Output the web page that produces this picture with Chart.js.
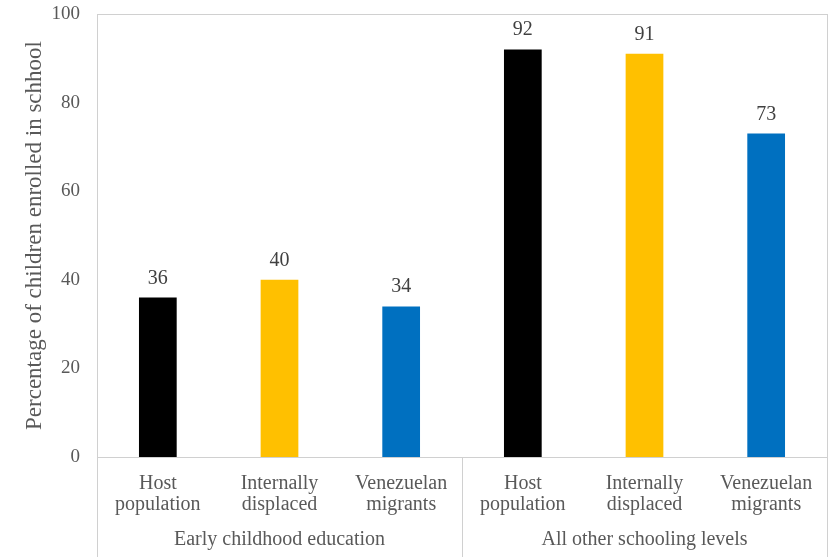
<!DOCTYPE html>
<html>
<head>
<meta charset="utf-8">
<script src="https://cdn.jsdelivr.net/npm/chart.js@4"></script>
<style>
  html, body { margin: 0; padding: 0; background: #fff; }
  #wrap { width: 840px; height: 557px; }
</style>
</head>
<body>
<div id="wrap"><canvas id="enrolChart"></canvas></div>
<script>
// chart data
const groups = ['Early childhood education', 'All other schooling levels'];
const categories = [
  ['Host', 'population'], ['Internally', 'displaced'], ['Venezuelan', 'migrants'],
  ['Host', 'population'], ['Internally', 'displaced'], ['Venezuelan', 'migrants'],
];
const enrolled = [36, 40, 34, 92, 91, 73];
const yTicks = [0, 20, 40, 60, 80, 100];

const palette = ['#000000', '#FFC000', '#0070C0', '#000000', '#FFC000', '#0070C0'];
const textGray = '#595959';
const lineGray = '#D0D0D0';
const serif = '"Liberation Serif", "Times New Roman", serif';

// frame, group separators and value labels
const decorations = {
  id: 'decorations',
  afterDraw(chart) {
    const { ctx, chartArea } = chart;
    const x = chart.scales.x;
    ctx.save();
    ctx.strokeStyle = lineGray;
    ctx.lineWidth = 1;
    ctx.strokeRect(chartArea.left + 0.5, chartArea.top + 0.5,
      chartArea.right - chartArea.left, chartArea.bottom - chartArea.top);
    const mid = (x.getPixelForValue(2) + x.getPixelForValue(3)) / 2;
    [chartArea.left, mid, chartArea.right].forEach((px) => {
      ctx.beginPath();
      ctx.moveTo(Math.round(px) + 0.5, chartArea.bottom);
      ctx.lineTo(Math.round(px) + 0.5, chart.height);
      ctx.stroke();
    });
    // values above bars
    ctx.fillStyle = '#404040';
    ctx.font = '20px ' + serif;
    ctx.textAlign = 'center';
    ctx.textBaseline = 'alphabetic';
    chart.getDatasetMeta(0).data.forEach((bar, i) => {
      ctx.fillText(enrolled[i], bar.x, bar.y - 14);
    });
    ctx.restore();
  },
};

const canvas = document.getElementById('enrolChart');
const chart = new Chart(canvas.getContext('2d'), {
  type: 'bar',
  data: {
    labels: categories,
    datasets: [
      {
        data: enrolled,
        backgroundColor: palette,
        borderWidth: 0,
        barPercentage: 0.31,
        categoryPercentage: 1,
        xAxisID: 'x',
      },
    ],
  },
  options: {
    responsive: true,
    maintainAspectRatio: false,
    animation: false,
    layout: { padding: { top: 14, right: 13, bottom: 0, left: 0 } },
    plugins: { legend: { display: false }, tooltip: { enabled: false } },
    scales: {
      x: {
        weight: 0,
        offset: true,
        grid: { display: false, drawTicks: false },
        border: { display: false },
        ticks: {
          color: textGray,
          font: { family: serif, size: 20, lineHeight: 1.05 },
          padding: 16,
          maxRotation: 0,
          autoSkip: false,
        },
        afterFit: (scale) => { scale.height = 65; },
      },
      x2: {
        type: 'category',
        labels: groups,
        position: 'bottom',
        weight: 1,
        offset: true,
        grid: { display: false, drawTicks: false },
        border: { display: false },
        ticks: {
          color: textGray,
          font: { family: serif, size: 20, lineHeight: 1.05 },
          padding: 7,
          maxRotation: 0,
          autoSkip: false,
        },
        afterFit: (scale) => { scale.height = 35; },
      },
      y: {
        min: 0,
        max: 100,
        afterBuildTicks: (scale) => { scale.ticks = yTicks.map((v) => ({ value: v })); },
        grid: { display: false, drawTicks: false },
        border: { display: false },
        ticks: {
          color: textGray,
          font: { family: serif, size: 19 },
          padding: 17,
        },
        title: {
          display: true,
          text: 'Percentage of children enrolled in schhool',
          color: textGray,
          font: { family: serif, size: 23 },
          padding: { top: 21, bottom: 0 },
        },
        afterFit: (scale) => {
          scale.width = 97;
          scale.paddingTop = 0;
          scale.paddingBottom = 0;
        },
      },
    },
  },
  plugins: [decorations],
});
</script>
</body>
</html>
